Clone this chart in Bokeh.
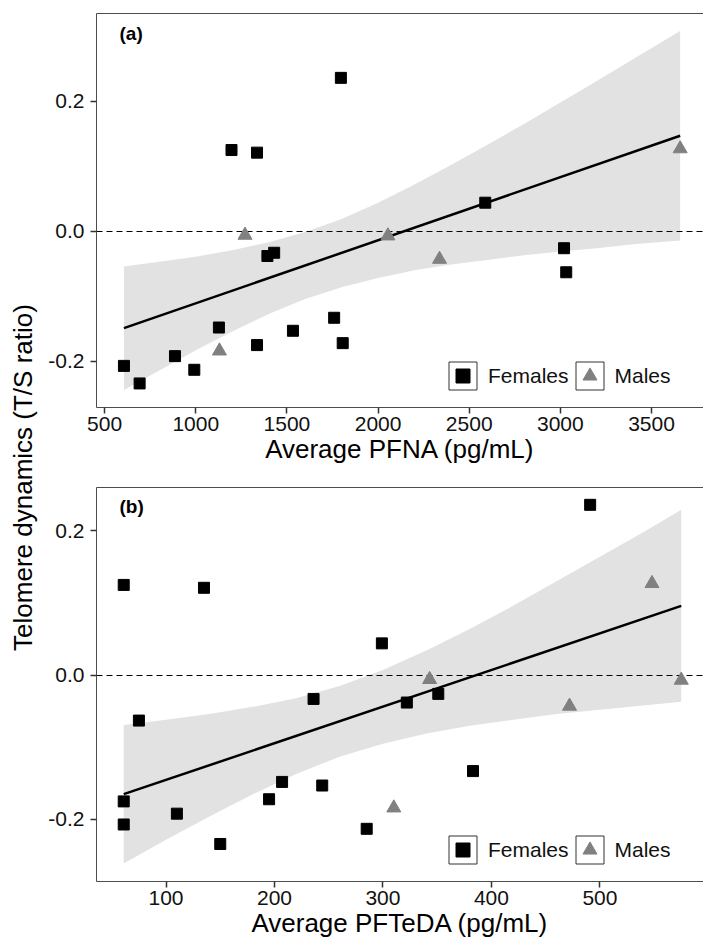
import math
from bokeh.plotting import figure
from bokeh.layouts import row, column
from bokeh.models import (Range1d, FixedTicker, NumeralTickFormatter, Label,
                          Legend, LegendItem, LinearAxis)
from bokeh.embed import file_html
from bokeh.resources import INLINE

FONT = "Liberation Sans"

# ---------------- data ----------------
# Females (black squares): telomere dynamics, PFNA, PFTeDA
telo_f = [0.236, 0.125, 0.121, 0.044, -0.026, -0.063, -0.038, -0.033, -0.148,
          -0.153, -0.133, -0.172, -0.175, -0.192, -0.213, -0.207, -0.234]
pfna_f = [1796, 1196, 1336, 2588, 3020, 3032, 1393, 1430, 1127,
          1533, 1759, 1806, 1336, 886, 992, 606, 692]
pfteda_f = [491, 61, 135, 299, 351, 75, 322, 236, 207,
            244, 383, 195, 61, 110, 285, 61, 150]

# Males (grey triangles)
telo_m = [-0.006, -0.007, -0.043, -0.184, 0.127]
pfna_m = [1270, 2054, 2337, 1130, 3657]
pfteda_m = [343, 575, 472, 310, 548]

# Regression line and confidence band, panel (a)
pfna_fit_x = [606, 3657]
pfna_fit_y = [-0.149, 0.147]
pfna_band_x = [606, 800, 1000, 1200, 1400, 1600, 1800, 2000, 2200, 2400,
               2600, 2800, 3000, 3200, 3400, 3657]
pfna_band_lo = [-0.244, -0.214, -0.183, -0.154, -0.127, -0.104, -0.086, -0.072,
                -0.060, -0.051, -0.044, -0.037, -0.031, -0.026, -0.020, -0.014]
pfna_band_hi = [-0.054, -0.047, -0.039, -0.029, -0.017, -0.001, 0.019, 0.044,
                0.072, 0.102, 0.133, 0.165, 0.198, 0.231, 0.265, 0.308]

# Regression line and confidence band, panel (b)
pfteda_fit_x = [61, 575]
pfteda_fit_y = [-0.165, 0.096]
pfteda_band_x = [61, 100, 140, 180, 220, 260, 300, 340, 380, 420, 460, 500, 540, 575]
pfteda_band_lo = [-0.261, -0.228, -0.196, -0.165, -0.137, -0.113, -0.095, -0.081,
                  -0.070, -0.062, -0.054, -0.048, -0.042, -0.037]
pfteda_band_hi = [-0.069, -0.062, -0.054, -0.044, -0.032, -0.015, 0.007, 0.034,
                  0.064, 0.096, 0.130, 0.164, 0.198, 0.229]

# Ticks and texts
pfna_ticks = [500, 1000, 1500, 2000, 2500, 3000, 3500]
pfteda_ticks = [100, 200, 300, 400, 500]
telo_ticks = [-0.2, 0.0, 0.2]
ref_level = [0.0]
sex_labels = ["Females", "Males"]
y_title = "Telomere dynamics (T/S ratio)"

FRAME_COLOR = "#4d4d4d"


def make_panel(tag, xf, xm, fit_x, fit_y, bx, blo, bhi, xr, yr, xticks,
               xlabel, height, top, bottom, tag_offset):
    frame_h = height - top - bottom
    p = figure(width=663, height=height,
               x_range=Range1d(*xr), y_range=Range1d(*yr),
               output_backend="svg", toolbar_location=None,
               min_border_left=56, min_border_right=0,
               min_border_top=top, min_border_bottom=bottom)
    p.background_fill_color = "white"
    p.border_fill_color = "white"
    p.outline_line_color = None
    p.grid.visible = False

    p.varea(x=bx, y1=blo, y2=bhi, fill_color="#e2e2e2")
    p.hspan(y=ref_level, line_color="black", line_width=1, line_dash="6 4")
    p.line(x=fit_x, y=fit_y, line_color="black", line_width=2.5)
    rf = p.scatter(x=xf, y=telo_f, marker="square", size=11,
                   fill_color="black", line_color="black")
    rm = p.scatter(x=xm, y=telo_m, marker="triangle", size=14,
                   fill_color="#808080", line_color="#808080")
    # zero-size quads: nothing shows in the plot, they draw the key frames of the legend
    bf = p.quad(left=xf, right=xf, bottom=telo_f, top=telo_f, fill_color=None,
                line_color="#333333", line_width=1)
    bm = p.quad(left=xm, right=xm, bottom=telo_m, top=telo_m, fill_color=None,
                line_color="#333333", line_width=1)

    xa = p.xaxis[0]
    ya = p.yaxis[0]
    xa.ticker = FixedTicker(ticks=xticks)
    ya.ticker = FixedTicker(ticks=telo_ticks)
    ya.formatter = NumeralTickFormatter(format="0.0")
    for ax in (xa, ya):
        ax.axis_line_color = FRAME_COLOR
        ax.axis_line_width = 1
        ax.major_tick_line_color = "#333333"
        ax.major_tick_line_width = 1.5
        ax.major_tick_out = 6
        ax.major_tick_in = 0
        ax.minor_tick_line_color = None
        ax.major_label_text_font = FONT
        ax.major_label_text_font_size = "21px"
        ax.major_label_text_color = "#111111"
    xa.major_label_standoff = 3
    ya.major_label_standoff = 6
    xa.axis_label = xlabel
    xa.axis_label_text_font = FONT
    xa.axis_label_text_font_size = "26px"
    xa.axis_label_text_font_style = "normal"
    xa.axis_label_text_color = "black"
    xa.axis_label_standoff = 0

    # top border of the panel (right border is cut off in the reference)
    top_axis = LinearAxis(ticker=FixedTicker(ticks=[]), axis_line_color=FRAME_COLOR,
                          axis_line_width=1, major_tick_line_color=None,
                          minor_tick_line_color=None, major_label_text_font_size="0px")
    p.add_layout(top_axis, "above")

    leg = Legend(items=[LegendItem(label=sex_labels[0], renderers=[bf, rf]),
                        LegendItem(label=sex_labels[1], renderers=[bm, rm])],
                 orientation="horizontal", location=(349, 14),
                 glyph_width=35, glyph_height=35, label_standoff=8,
                 spacing=3, padding=0, margin=0,
                 border_line_color=None, background_fill_alpha=0,
                 label_text_font=FONT, label_text_font_size="21px",
                 label_text_color="#111111")
    p.add_layout(leg)

    p.add_layout(Label(x=23, y=frame_h - tag_offset, x_units="screen", y_units="screen",
                       text=tag, text_font=FONT, text_font_size="19px",
                       text_font_style="bold", text_baseline="middle",
                       text_align="left", text_color="black"))
    return p


pa = make_panel("(a)", pfna_f, pfna_m, pfna_fit_x, pfna_fit_y,
                pfna_band_x, pfna_band_lo, pfna_band_hi,
                (455.5, 3785), (-0.271, 0.335), pfna_ticks,
                "Average PFNA (pg/mL)", 477, 13, 70, 20)
pb = make_panel("(b)", pfteda_f, pfteda_m, pfteda_fit_x, pfteda_fit_y,
                pfteda_band_x, pfteda_band_lo, pfteda_band_hi,
                (35.9, 595.5), (-0.286, 0.260), pfteda_ticks,
                "Average PFTeDA (pg/mL)", 466, 10, 62, 19)

# narrow figure carrying the shared y-axis title
pl = figure(width=40, height=943, x_range=Range1d(0, 1), y_range=Range1d(0, 1),
            output_backend="svg", toolbar_location=None,
            min_border_left=0, min_border_right=0, min_border_top=0,
            min_border_bottom=0)
pl.axis.visible = False
pl.grid.visible = False
pl.outline_line_color = None
pl.background_fill_color = "white"
pl.border_fill_color = "white"
pl.add_layout(Label(x=22, y=466, x_units="screen", y_units="screen",
                    text=y_title, angle=math.pi / 2, text_font=FONT,
                    text_font_size="26px", text_align="center",
                    text_baseline="middle", text_color="black"))

layout = row(pl, column(pa, pb))

open("out.html", "w").write(file_html(layout, INLINE))
